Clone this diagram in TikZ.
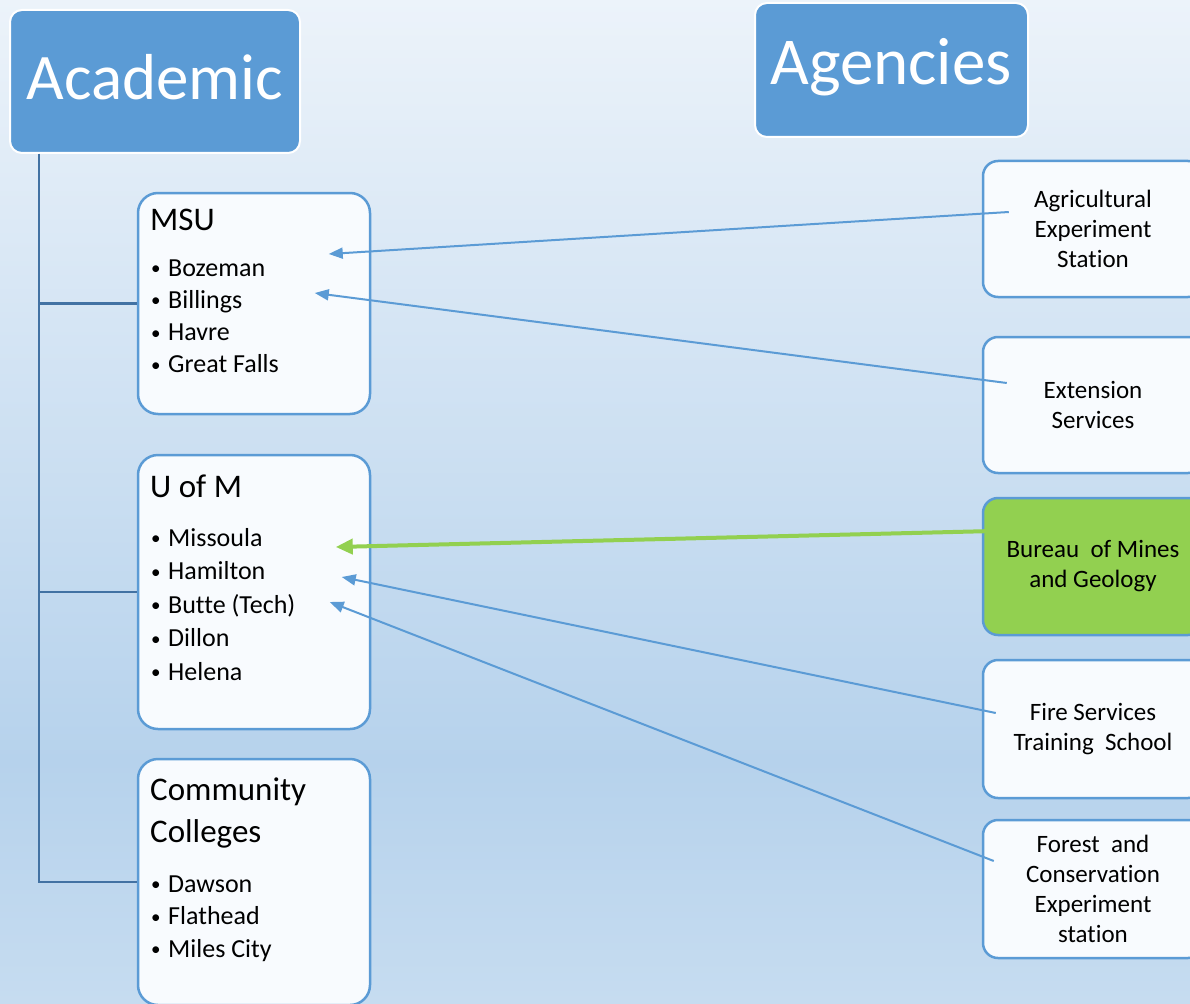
\documentclass[tikz,border=0pt]{standalone}
\usepackage{fontspec}
\setmainfont{Carlito}[Ligatures=NoCommon]
\usetikzlibrary{arrows.meta,calc}

\definecolor{hdrblue}{HTML}{5B9BD5}
\definecolor{treeblue}{HTML}{4272A3}
\definecolor{lnkblue}{HTML}{5B9BD5}
\definecolor{geogreen}{HTML}{92D050}
\definecolor{boxfill}{HTML}{F8FBFE}
\definecolor{bgtop}{HTML}{ECF3FA}
\definecolor{bgmid}{HTML}{B6D2EC}
\definecolor{bgbot}{HTML}{C6DCF0}

\newcommand\itembullet{\makebox[18pt][l]{\hspace{1pt}\raisebox{1.5pt}{\fontsize{19}{19}\selectfont •}}}

\begin{document}
\begin{tikzpicture}[x=1pt,y=-1pt,
  header/.style={draw=white, line width=2pt, fill=hdrblue, rounded corners=12pt, inner sep=0pt},
  headtext/.style={text=white, inner sep=0pt},
  school/.style={draw=lnkblue, line width=2.5pt, fill=boxfill, rounded corners=20pt,
                 minimum width=232pt, inner sep=0pt},
  schooltitle/.style={font=\fontsize{33}{42}\selectfont, inner sep=0pt, anchor=base west},
  schoolitem/.style={font=\fontsize{26}{32}\selectfont, inner sep=0pt, anchor=base west},
  agency/.style={draw=lnkblue, line width=2.5pt, fill=boxfill, rounded corners=15pt,
                 minimum width=220pt, align=center, font=\fontsize{25}{30}\selectfont, inner sep=0pt},
  tree/.style={draw=treeblue, line width=2.5pt},
  link/.style={draw=lnkblue, line width=2pt, -{Triangle[length=14pt,width=11pt]}},
  geolink/.style={draw=geogreen, line width=4pt, -{Triangle[length=17pt,width=15pt]}}
]
\useasboundingbox (0,0) rectangle (1190,1003);
\clip (0,0) rectangle (1190,1003);

% background wash
\fill[top color=bgtop, bottom color=bgmid] (0,0) rectangle (1190,761);
\fill[top color=bgmid, bottom color=bgbot] (0,760) rectangle (1190,1003);

% headers
\node[header, minimum width=290pt, minimum height=143pt] (acad) at (155,81.5) {};
\node[headtext, anchor=base, font=\fontsize{65}{78}\selectfont] (acadT) at (155,100) {Academic};
\node[header, minimum width=273pt, minimum height=134pt] (agen) at (891.5,70) {};
\node[headtext, anchor=base, font=\fontsize{67}{80}\selectfont] (agenT) at (891,85) {Agencies};

% academic institutions
\node[school, minimum height=221pt] (msu) at (254,303.5) {};
\node[school, minimum height=274pt] (uofm) at (254,592) {};
\node[school, minimum height=246pt] (cc) at (254,882) {};

\node[schooltitle] (msuT) at (150,230) {MSU};
\foreach \c [count=\i] in {Bozeman,Billings,Havre,Great Falls}
  \node[schoolitem] (msu\i) at (150,{276+32.3*(\i-1)}) {\itembullet\c};

\node[schooltitle] (uofmT) at (150,497) {U of M};
\foreach \c [count=\i] in {Missoula,Hamilton,Butte (Tech),Dillon,Helena}
  \node[schoolitem] (uofm\i) at (150,{546+33.5*(\i-1)}) {\itembullet\c};

\node[schooltitle] (ccT1) at (150,800) {Community};
\node[schooltitle] (ccT2) at (150,842) {Colleges};
\foreach \c [count=\i] in {Dawson,Flathead,Miles City}
  \node[schoolitem] (cc\i) at (150,{892+32.5*(\i-1)}) {\itembullet\c};

% tree from the Academic header
\coordinate (trunk) at ($(acad.south west)+(30,0)$);
\draw[tree] (trunk) |- (msu.west);
\draw[tree] (trunk) |- (uofm.west);
\draw[tree] (trunk) |- (cc.west);

% agencies
\node[agency, minimum height=136pt] (agr) at (1093,229) {Agricultural\\Experiment\\Station};
\node[agency, minimum height=136pt] (ext) at (1093,405) {Extension\\Services};
\node[agency, minimum height=137pt, fill=geogreen] (bur) at (1093,566.5) {Bureau\ \ of Mines\\and Geology};
\node[agency, minimum height=138pt] (fire) at (1093,729) {Fire Services\\Training\ \ School};
\node[agency, minimum height=138pt] (forest) at (1093,889) {Forest\ \ and\\Conservation\\Experiment\\station};

% links from agencies to campuses
\coordinate (agrOut) at ($(agr.west)+(27,-17)$);
\coordinate (msuInA) at ($(msu.west)+(192,-49.5)$);
\coordinate (extOut) at ($(ext.west)+(25,-22)$);
\coordinate (msuInB) at ($(msu.west)+(178,-10.5)$);
\coordinate (burOut) at ($(bur.west)+(12,-35.5)$);
\coordinate (uofmInA) at ($(uofm.west)+(199,-45)$);
\coordinate (fireOut) at ($(fire.west)+(14,-16)$);
\coordinate (uofmInB) at ($(uofm.west)+(205,-15)$);
\coordinate (forestOut) at ($(forest.west)+(12,-28)$);
\coordinate (uofmInC) at ($(uofm.west)+(193,10)$);

\draw[link] (agrOut) -- (msuInA);
\draw[link] (extOut) -- (msuInB);
\draw[geolink] (burOut) -- (uofmInA);
\draw[link] (fireOut) -- (uofmInB);
\draw[link] (forestOut) -- (uofmInC);
\end{tikzpicture}
\end{document}
